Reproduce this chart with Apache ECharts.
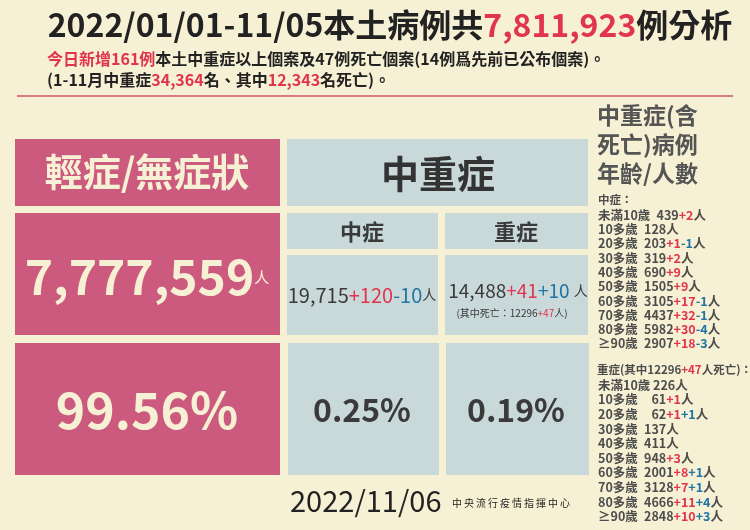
<!DOCTYPE html>
<html><head><meta charset="utf-8">
<script src="https://cdn.jsdelivr.net/npm/echarts@6/dist/echarts.min.js"></script>
<style>html,body{margin:0;padding:0;background:#f6f1d4}#c{width:750px;height:530px}</style>
</head><body><div id="c"></div>
<script>
// ---- data ----
const titleRange = '2022/01/01-11/05';
const totalCases = '7,811,923';
const todayNew = '161';
const todayDeaths = '47';
const prevDeaths = '14';
const ytdSevere = '34,364';
const ytdDeaths = '12,343';
const mildCount = '7,777,559';
const mildPct = '99.56%';
const modCount = '19,715', modAdd = '+120', modSub = '-10';
const sevCount = '14,488', sevAdd = '+41', sevMove = '+10';
const deathBase = '12296', deathAdd = '+47';
const modPct = '0.25%', sevPct = '0.19%';
const reportDate = '2022/11/06';
const agency = '中央流行疫情指揮中心';
const ageLabels = ['未滿10歲','10多歲','20多歲','30多歲','40多歲','50多歲','60多歲','70多歲','80多歲','≥90歲'];
const modAgeBase = [439,128,203,319,690,1505,3105,4437,5982,2907];
const modAgeAdd  = [2,0,1,2,9,9,17,32,30,18];
const modAgeSub  = [0,0,1,0,0,0,1,1,4,3];
const sevAgeBase = [226,61,62,137,411,948,2001,3128,4666,2848];
const sevAgeAdd  = [0,1,1,0,0,3,8,7,11,10];
const sevAgeMove = [0,0,1,0,0,0,1,1,4,3];

// ---- style ----
const FF = '"Noto Sans CJK TC","Noto Sans CJK SC",sans-serif';
const BG = '#f6f1d4', PINK = '#cc5a7e', GRAY = '#c9d8d9', DARK = '#3a3a3a';
const RED = '#e0344f', BLUE = '#1f74a6', CREAM = '#f6f1d4', LIST = '#4d4d4d';

function rs(size, color, weight){ return {fontSize:size, fill:color, fontWeight:weight||'bold', fontFamily:FF}; }
function txt(x,y,text,rich,align,base){
  return {type:'text', z:10, style:{x:x,y:y,text:text,rich:rich,align:align||'center',verticalAlign:base||'middle',fontFamily:FF}};
}
function rect(x,y,w,h,fill){ return {type:'rect', shape:{x:x,y:y,width:w,height:h}, style:{fill:fill}}; }

const els = [];
els.push(rect(0,0,750,530,BG));
els.push({type:'line', shape:{x1:17,y1:96,x2:733,y2:96}, style:{stroke:'#d77a85',lineWidth:2}});

// Title
els.push(txt(390,25,'{a|'+titleRange+'本土病例共}{r|'+totalCases+'}{a|例分析}',
  {a:rs(32,'#222'), r:rs(32,RED)}));
els.push(txt(47,59,'{r|今日新增'+todayNew+'例}{a|本土中重症以上個案及'+todayDeaths+'例死亡個案('+prevDeaths+'例爲先前已公布個案)。}',
  {a:rs(16,'#222'), r:rs(16,RED)},'left'));
els.push(txt(47,80,'{a|(1-11月中重症}{r|'+ytdSevere+'}{a|名、其中}{r|'+ytdDeaths+'}{a|名死亡)。}',
  {a:rs(16,'#222'), r:rs(16,RED)},'left'));

// Panels
[[15,139,265,67],[15,213,265,122],[15,343,265,132]].forEach(r=>els.push(rect(r[0],r[1],r[2],r[3],PINK)));
[[287,139,301,67],[287,213,151,36],[445,213,143,36],[287,255,151,80],[445,255,143,80],[288,343,151,132],[446,343,143,132]]
  .forEach(r=>els.push(rect(r[0],r[1],r[2],r[3],GRAY)));

els.push(txt(147,172,'{a|輕症/無症狀}',{a:rs(38,CREAM)}));
els.push(txt(147,277,'{a|'+mildCount+'}{b|人}',{a:rs(48,CREAM), b:rs(15,CREAM,'normal')}));
els.push(txt(147,410,'{a|'+mildPct+'}',{a:rs(50,CREAM)}));

els.push(txt(438,174,'{a|中重症}',{a:rs(38,'#333')}));
els.push(txt(362,232,'{a|中症}',{a:rs(22,DARK)}));
els.push(txt(516,232,'{a|重症}',{a:rs(22,DARK)}));

els.push(txt(362,295,'{a|'+modCount+'}{r|'+modAdd+'}{b|'+modSub+'}{c|人}',
  {a:rs(20,DARK,'normal'), r:rs(20,RED,'normal'), b:rs(20,BLUE,'normal'), c:rs(14,DARK,'normal')}));
els.push(txt(518,291,'{a|'+sevCount+'}{r|'+sevAdd+'}{b|'+sevMove+' }{c|人}',
  {a:rs(19,DARK,'normal'), r:rs(19,RED,'normal'), b:rs(19,BLUE,'normal'), c:rs(14,DARK,'normal')}));
els.push(txt(512,313,'{a|(其中死亡：'+deathBase+'}{r|'+deathAdd+'}{a|人)}',
  {a:rs(10,DARK,'normal'), r:rs(10,RED,'normal')}));

els.push(txt(362,410,'{a|'+modPct+'}',{a:rs(32,DARK)}));
els.push(txt(516,410,'{a|'+sevPct+'}',{a:rs(32,DARK)}));

// Footer
els.push(txt(290,501,'{a|'+reportDate+'}',{a:rs(29,'#222','normal')},'left'));
els.push(txt(452,503,'{a|'+agency.split('').join('\u2009')+'}',{a:rs(10,'#222','normal')},'left'));

// Right panel
els.push(txt(597,115,'{a|中重症(含}',{a:rs(23,'#555')},'left'));
els.push(txt(597,144,'{a|死亡)病例}',{a:rs(23,'#555')},'left'));
els.push(txt(597,173,'{a|年齡/人數}',{a:rs(23,'#555')},'left'));

const lr = {a:rs(12.5,LIST), r:rs(12.5,RED), b:rs(12.5,BLUE)};
const lh = {a:rs(11.5,LIST), r:rs(11.5,RED), b:rs(11.5,BLUE)};
els.push(txt(598,200,'{a|中症：}',lh,'left'));
ageLabels.forEach((lab,i)=>{
  let s = '{a|'+lab+'\u2002'+modAgeBase[i]+'}';
  if(modAgeAdd[i]) s += '{r|+'+modAgeAdd[i]+'}';
  if(modAgeSub[i]) s += '{b|-'+modAgeSub[i]+'}';
  s += '{a|人}';
  els.push(txt(598,215+i*14.3,s,lr,'left'));
});
els.push(txt(597,370,'{a|重症(其中'+deathBase+'}{r|'+deathAdd+'}{a|人死亡)：}',lh,'left'));
ageLabels.forEach((lab,i)=>{
  const pad = sevAgeBase[i] < 100 ? '\u2002\u2007' : '\u2002';
  let s = '{a|'+lab+(i===0?' ':pad)+sevAgeBase[i]+'}';
  if(sevAgeAdd[i]) s += '{r|+'+sevAgeAdd[i]+'}';
  if(sevAgeMove[i]) s += '{b|+'+sevAgeMove[i]+'}';
  s += '{a|人}';
  els.push(txt(598,385+i*14.6,s,lr,'left'));
});

const chart = echarts.init(document.getElementById('c'));
chart.setOption({animation:false, backgroundColor:BG, graphic:{elements:els}});
</script></body></html>
